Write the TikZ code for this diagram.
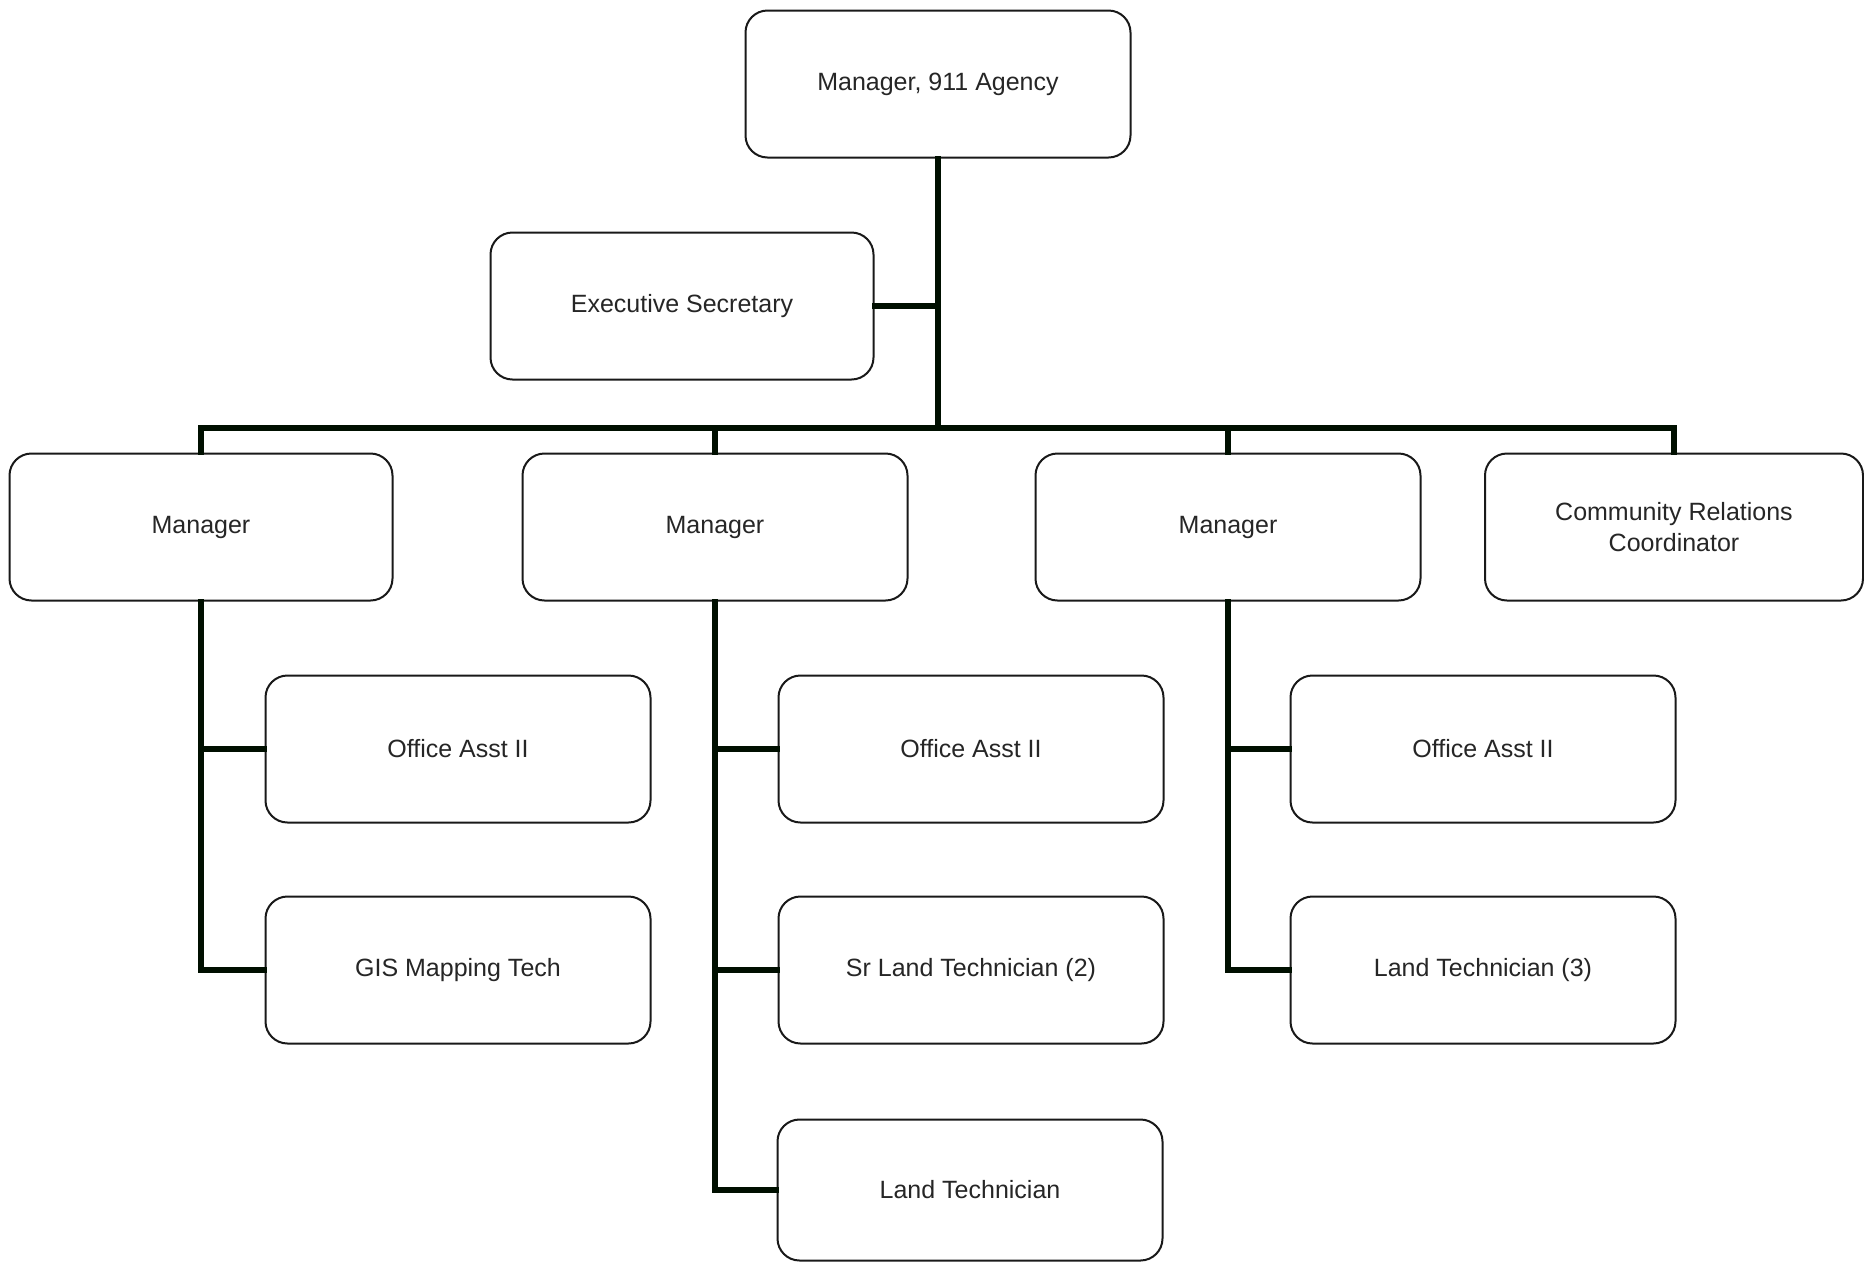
\documentclass[tikz,border=0pt]{standalone}
\usepackage{fontspec}
\setmainfont{Liberation Sans}
\begin{document}
\begin{tikzpicture}[x=0.5pt,y=-0.5pt,
  box/.style={draw=black!90, line width=1pt, rounded corners=11pt, fill=white,
    minimum width=192.5pt, minimum height=73.5pt, align=center, inner sep=2pt,
    font=\fontsize{12.5}{15.5}\selectfont, text=black!85},
  conn/.style={draw=black!85!green!40!black, line width=2.6pt}]
\useasboundingbox (0,0) rectangle (1864,1265);
\fill[white] (0,0) rectangle (1864,1265);
\coordinate (bus) at (937,428);
% connectors first
\node[box] (top) at (938,84) {Manager, 911 Agency};
\node[box, minimum width=191.5pt] (exec) at (682,306) {Executive Secretary};
\node[box, minimum width=191.5pt] (m1) at (201,527) {Manager};
\node[box] (m2) at (715,527) {Manager};
\node[box] (m3) at (1228,527) {Manager};
\node[box, minimum width=189pt] (crc) at (1674,527) {Community Relations\\Coordinator};
\node[box] (oa1) at (458,749) {Office Asst II};
\node[box] (gis) at (458,970) {GIS Mapping Tech};
\node[box] (oa2) at (971,749) {Office Asst II};
\node[box] (slt) at (971,970) {Sr Land Technician (2)};
\node[box, minimum height=70.5pt] (lt) at (970,1190) {Land Technician};
\node[box] (oa3) at (1483,749) {Office Asst II};
\node[box] (lt3) at (1483,970) {Land Technician (3)};
\begin{scope}[line cap=rect]
\draw[conn] (top.south) -- (top.south |- bus);
\draw[conn] (exec.east) -- (exec.east -| top.south);
\draw[conn] (m1.north) -- (m1.north |- bus) -- (crc.north |- bus) -- (crc.north);
\draw[conn] (m2.north) -- (m2.north |- bus);
\draw[conn] (m3.north) -- (m3.north |- bus);
\draw[conn] (m1.south) |- (gis.west);
\draw[conn] (m1.south |- oa1.west) -- (oa1.west);
\draw[conn] (m2.south) |- (lt.west);
\draw[conn] (m2.south |- oa2.west) -- (oa2.west);
\draw[conn] (m2.south |- slt.west) -- (slt.west);
\draw[conn] (m3.south) |- (lt3.west);
\draw[conn] (m3.south |- oa3.west) -- (oa3.west);
\end{scope}
\end{tikzpicture}
\end{document}
